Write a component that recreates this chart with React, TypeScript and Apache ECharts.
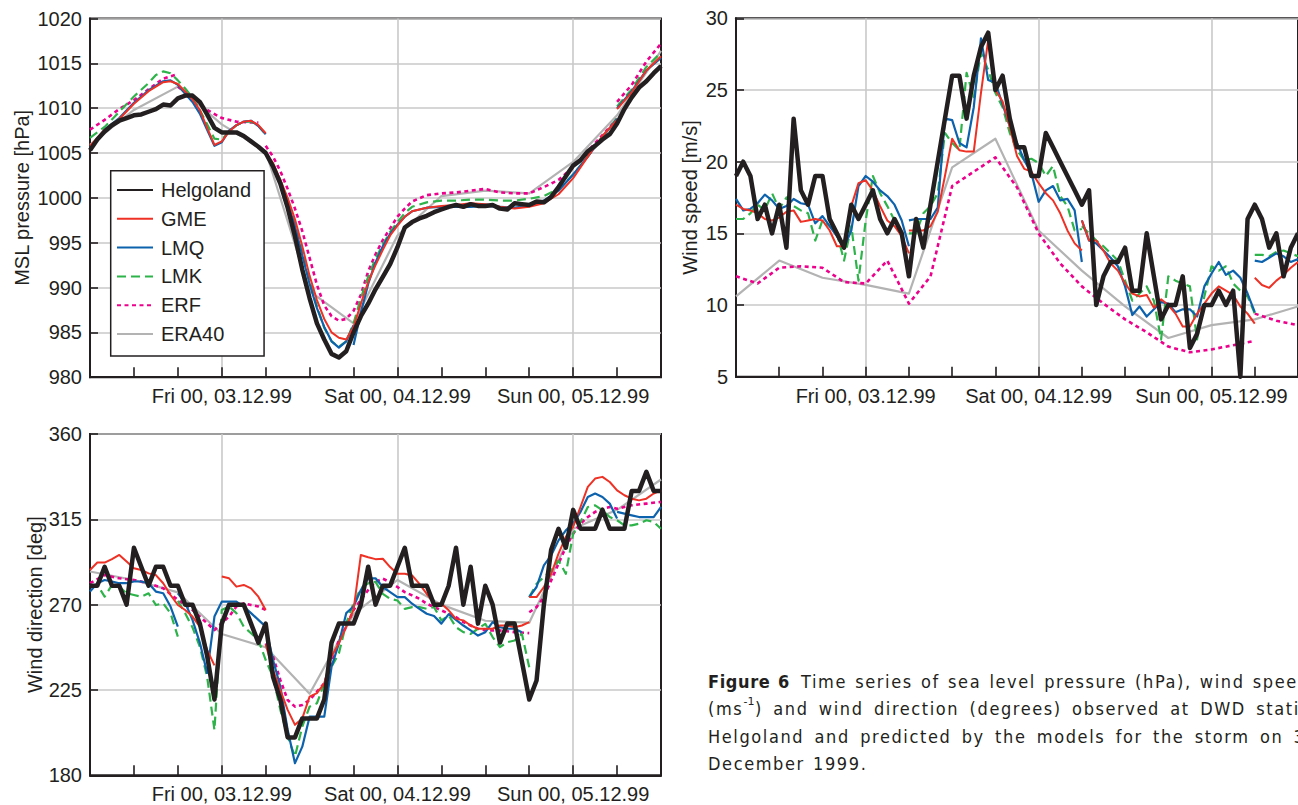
import { useEffect, useRef } from "react";
import * as echarts from "echarts";

// Hour offsets from Thu 02.12.99 06 UTC; each run is a list of [hour, value] points.
type Pt = [number, number | null];

const SPAN_HOURS = 78;
const TICK_STEP_HOURS = 6;
const DAY_HOURS = [18, 42, 66];
const DAY_LABELS = ["Fri 00, 03.12.99", "Sat 00, 04.12.99", "Sun 00, 05.12.99"];

const NAMES = ["Helgoland", "GME", "LMQ", "LMK", "ERF", "ERA40"];

// ---------------- MSL pressure [hPa] ----------------
const HELGOLAND_PRESSURE = [
  1005.3, 1006.5, 1007.4, 1008.1, 1008.6, 1008.9, 1009.2, 1009.3, 1009.6, 1009.9,
  1010.4, 1010.3, 1011.1, 1011.4, 1011.4, 1010.7, 1009.3, 1007.8, 1007.3, 1007.3,
  1007.3, 1006.9, 1006.3, 1005.7, 1005.0, 1003.5, 1001.6, 998.9, 995.7, 992.0,
  988.8, 986.0, 984.2, 982.6, 982.2, 982.9, 985.0, 986.8, 988.2, 989.8,
  991.2, 992.6, 994.5, 996.7, 997.3, 997.7, 998.0, 998.4, 998.7, 999.0,
  999.2, 999.0, 999.3, 999.1, 999.1, 999.2, 998.8, 998.7, 999.4, 999.3,
  999.2, 999.6, 999.5, 1000.1, 1001.2, 1002.4, 1003.6, 1004.2, 1005.2, 1005.8,
  1006.5, 1007.1, 1008.3, 1009.9, 1011.2, 1012.3, 1013.0, 1013.9, 1014.7,
];

const GME_PRESSURE: Pt[][] = [
  [[0, 1005.8], [2, 1007.6], [4, 1008.8], [6, 1010.5], [8, 1011.9], [10, 1012.9], [11, 1013.0], [12, 1012.7],
   [14, 1011.0], [15, 1009.8], [16, 1007.8], [17, 1005.9], [18, 1006.3], [19, 1007.4], [20, 1008.1], [21, 1008.5],
   [22, 1008.6], [23, 1008.1], [24, 1007.2]],
  [[24, 1005.0], [25, 1003.9], [26, 1002.0], [27, 1000.0], [28, 997.6], [29, 994.6], [30, 991.3], [31, 988.6],
   [32, 986.5], [33, 985.0], [34, 984.4], [35, 984.2], [36, 985.6], [37, 988.2], [38, 990.6], [39, 992.5],
   [40, 994.2], [41, 995.8], [42, 996.9], [43, 997.9], [44, 998.5], [46, 998.9], [48, 999.1], [50, 999.2],
   [52, 999.4], [54, 999.3], [56, 999.0], [58, 998.8], [60, 999.0], [62, 999.4], [64, 1000.4], [66, 1002.2],
   [68, 1004.6], [70, 1006.9], [72, 1008.7]],
  [[72, 1009.9], [74, 1011.8], [76, 1014.2], [78, 1015.8]],
];

const LMQ_PRESSURE: Pt[][] = [
  [[0, 1005.6], [2, 1007.6], [4, 1008.9], [6, 1010.6], [8, 1012.0], [10, 1013.0], [11, 1013.1], [12, 1012.6],
   [13, 1011.6], [14, 1010.7], [15, 1009.4], [16, 1007.6], [17, 1005.8], [18, 1006.2], [19, 1007.5], [20, 1008.1],
   [21, 1008.5], [22, 1008.6], [23, 1008.0], [24, 1007.1]],
  [[24, 1005.0], [25, 1003.7], [26, 1001.8], [27, 999.5], [28, 996.8], [29, 993.6], [30, 990.4], [31, 987.7],
   [32, 985.6], [33, 984.0], [34, 983.3], [35, 984.0], [36, 985.8]],
  [[36, 983.6], [37, 987.2], [38, 990.4], [39, 992.8], [40, 994.6], [41, 996.0], [42, 997.0], [43, 997.9],
   [44, 998.5], [46, 998.9], [48, 999.0], [50, 999.0], [52, 999.0], [54, 999.1], [56, 999.0], [58, 998.9],
   [60, 999.1], [62, 999.7], [64, 1000.8], [66, 1002.6], [68, 1004.6], [70, 1006.8], [72, 1008.8]],
  [[72, 1010.0], [74, 1011.9], [76, 1014.2], [78, 1015.6]],
];

const LMK_PRESSURE: Pt[][] = [
  [[0, 1006.7], [2, 1007.9], [4, 1009.6], [6, 1011.3], [8, 1012.8], [9, 1013.7], [10, 1014.1], [11, 1013.9],
   [12, 1013.1], [13, 1012.2], [14, 1011.2], [15, 1009.8], [16, 1008.2], [17, 1006.6], [18, 1006.5], [19, 1007.4],
   [20, 1008.1], [21, 1008.5], [22, 1008.5], [23, 1008.0], [24, 1007.1]],
  [[24, 1005.0], [26, 1002.0], [28, 997.2], [29, 994.0], [30, 990.8], [31, 987.9], [32, 985.5], [33, 984.0],
   [34, 983.4], [35, 984.0], [36, 986.0], [37, 988.8], [38, 991.2], [39, 993.2], [40, 994.8], [41, 996.2],
   [42, 997.3], [43, 998.3], [44, 999.0], [46, 999.5], [48, 999.7], [50, 999.7], [52, 999.8], [54, 999.8],
   [56, 999.7], [58, 999.7], [60, 999.9], [62, 1000.2], [64, 1001.0], [66, 1002.6], [68, 1004.6], [70, 1006.8],
   [72, 1008.9]],
  [[72, 1010.2], [74, 1012.1], [76, 1014.6], [78, 1016.2]],
];

const ERF_PRESSURE: Pt[][] = [
  [[0, 1007.6], [2, 1008.7], [4, 1009.9], [6, 1010.9], [8, 1012.1], [10, 1013.3], [12, 1013.8]],
  [[12, 1012.4], [14, 1011.2], [16, 1009.8], [18, 1008.9], [20, 1008.5], [22, 1008.4], [23, 1008.4]],
  [[24, 1005.8], [25, 1004.6], [26, 1003.0], [27, 1001.0], [28, 998.8], [29, 996.3], [30, 993.3], [31, 990.3],
   [32, 988.0], [33, 986.8], [34, 986.3], [35, 986.5], [36, 987.4], [37, 989.2], [38, 991.8], [39, 993.7],
   [40, 995.3], [41, 996.6], [42, 997.9], [43, 998.8], [44, 999.6], [46, 1000.3], [48, 1000.5], [50, 1000.6],
   [52, 1000.8], [54, 1001.0], [56, 1000.6], [58, 1000.5], [60, 1000.5], [62, 1001.2], [64, 1002.0], [66, 1003.4],
   [68, 1005.2], [70, 1007.0], [72, 1008.8]],
  [[72, 1010.7], [74, 1012.6], [76, 1015.2], [78, 1017.2]],
];

const ERA40_PRESSURE: Pt[][] = [
  [[0, 1005.9], [6, 1009.8], [12, 1012.4], [18, 1008.2], [24, 1005.2], [30, 989.6], [36, 986.0], [42, 995.8],
   [48, 1000.2], [54, 1000.8], [60, 1000.5], [66, 1004.0], [72, 1009.2], [78, 1016.4]],
];

// ---------------- Wind speed [m/s] ----------------
const HELGOLAND_SPEED = [
  19, 20, 19, 16, 17, 15, 17, 14, 23, 18,
  17, 19, 19, 16, 15, 14, 17, 16, 17, 18,
  16, 15, 16, 15, 12, 16, 14, 17, 20, 23,
  26, 26, 23, 26, 28, 29, 25, 26, 23, 21,
  21, 19, 19, 22, 21, 20, 19, 18, 17, 18,
  10, 12, 13, 13, 14, 11, 11, 15, 12, 9,
  10, 10, 12, 7, 8, 10, 10, 11, 10, 11,
  5, 16, 17, 16, 14, 15, 12, 14, 15,
];

const GME_SPEED: Pt[][] = [
  [[0, 17.0], [1, 16.7], [2, 16.6], [3, 16.4], [4, 16.0], [5, 15.9], [6, 16.1], [7, 16.5], [8, 16.6], [9, 15.8],
   [10, 15.9], [11, 16.0], [12, 15.9], [13, 15.2], [14, 14.1], [15, 14.1], [16, 16.9], [17, 18.5], [18, 18.7],
   [19, 18.0], [20, 16.9], [21, 15.9], [22, 15.5], [23, 14.8], [24, 13.6]],
  [[24, 15.2], [25, 15.2], [26, 15.2], [27, 15.5], [28, 16.5], [29, 19.0], [30, 21.6], [31, 20.8], [32, 20.7],
   [33, 20.7], [34, 24.8], [35, 28.5], [36, 25.0], [37, 24.2], [38, 22.4], [39, 20.4], [40, 19.5], [41, 19.3],
   [42, 18.5], [43, 17.8], [44, 17.3], [45, 16.4], [46, 15.2], [47, 14.3], [48, 13.8]],
  [[48, 15.9], [49, 14.5], [50, 14.5], [51, 13.8], [52, 12.9], [53, 12.4], [54, 11.5], [55, 10.8], [56, 10.6],
   [57, 10.7], [58, 9.8], [59, 10.4], [60, 10.0], [61, 9.4], [62, 8.5], [63, 8.5], [64, 9.4], [65, 10.1],
   [66, 10.8], [67, 11.3], [68, 11.0], [69, 10.7], [70, 9.9], [71, 9.4], [72, 8.7]],
  [[72, 11.9], [73, 11.4], [74, 11.2], [75, 11.7], [76, 12.1], [77, 12.6], [78, 13.0]],
];

const LMQ_SPEED: Pt[][] = [
  [[0, 17.4], [1, 16.6], [2, 16.7], [3, 17.1], [4, 17.7], [5, 17.3], [6, 16.7], [7, 16.9], [8, 17.4], [9, 17.1],
   [10, 17.0], [11, 15.7], [12, 16.2], [13, 15.5], [14, 14.8], [15, 14.0], [16, 15.2], [17, 18.3], [18, 19.0],
   [19, 18.6], [20, 18.0], [21, 17.6], [22, 17.0], [23, 15.9], [24, 14.1]],
  [[24, 15.9], [25, 16.0], [26, 16.0], [27, 16.0], [28, 16.8], [29, 23.0], [30, 22.9], [31, 21.3], [32, 21.0],
   [33, 23.8], [34, 28.6], [35, 25.7], [36, 25.5], [37, 24.0], [38, 22.5], [39, 21.3], [40, 20.1], [41, 19.2],
   [42, 17.2], [43, 18.0], [44, 18.3], [45, 17.3], [46, 17.4], [47, 16.6], [48, 13.0]],
  [[48, 15.9], [49, 14.5], [50, 14.3], [51, 13.8], [52, 13.3], [53, 12.7], [54, 11.3], [55, 9.3], [56, 9.9],
   [57, 9.2], [58, 9.7], [59, 10.2], [60, 10.1], [61, 9.5], [62, 9.7], [63, 9.7], [64, 9.2], [65, 11.3],
   [66, 12.2], [67, 13.0], [68, 12.1], [69, 12.4], [70, 11.9], [71, 10.8], [72, 9.5]],
  [[72, 13.1], [73, 13.0], [74, 13.3], [75, 13.6], [76, 13.4], [77, 13.0], [78, 13.2]],
];

const LMK_SPEED: Pt[][] = [
  [[0, 16.0], [1, 16.0], [2, 16.4], [3, 17.0], [4, 16.6], [5, 17.8], [6, 16.7], [7, 17.5], [8, 16.9], [9, 16.6],
   [10, 16.4], [11, 14.5], [12, 15.9], [13, 15.5], [14, 15.0], [15, 13.1], [16, 15.5], [17, 11.7], [18, 15.9],
   [19, 19.0], [20, 17.8], [21, 16.9], [22, 15.9], [23, 15.0], [24, 12.2]],
  [[24, 15.0], [25, 15.0], [26, 16.4], [27, 16.9], [28, 17.8], [29, 22.0], [30, 21.3], [31, 20.8], [32, 26.2],
   [33, 24.5], [34, 27.6], [35, 26.4], [36, 24.8], [37, 23.8], [38, 22.0], [39, 20.8], [40, 20.1], [41, 20.2],
   [42, 19.9], [43, 19.0], [44, 19.7], [45, 17.6], [46, 16.9], [47, 15.2], [48, 15.3]],
  [[48, 15.5], [49, 15.0], [50, 14.5], [51, 14.1], [52, 13.6], [53, 13.1], [54, 11.7], [55, 10.3], [56, 10.8],
   [57, 11.3], [58, 10.3], [59, 7.6], [60, 12.0], [61, 11.7], [62, 11.5], [63, 11.3], [64, 7.6], [65, 10.6],
   [66, 12.7], [67, 12.4], [68, 12.7], [69, 11.5], [70, 11.0], [71, 10.6], [72, 9.4]],
  [[72, 13.5], [73, 13.5], [74, 13.4], [75, 13.7], [76, 13.8], [77, 13.6], [78, 13.4]],
];

const ERF_SPEED: Pt[][] = [
  [[0, 12.0], [3, 11.5], [6, 12.6], [9, 12.7], [12, 12.6], [15, 11.6], [18, 11.5], [21, 13.1], [24, 10.1],
   [27, 12.0], [30, 18.3], [33, 19.3], [36, 20.3], [39, 18.2], [42, 15.0], [45, 12.9], [48, 11.3], [51, 10.1],
   [54, 9.0], [57, 8.1], [60, 7.1], [63, 6.7], [66, 6.9], [69, 7.2], [72, 7.5]],
  [[72, 9.4], [75, 8.9], [78, 8.6]],
];

const ERA40_SPEED: Pt[][] = [
  [[0, 10.6], [6, 13.1], [12, 11.9], [18, 11.4], [24, 10.8], [30, 19.6], [36, 21.6], [42, 15.2], [48, 12.4],
   [54, 9.9], [60, 7.7], [66, 8.6], [72, 9.0], [78, 9.9]],
];

// ---------------- Wind direction [deg] ----------------
const HELGOLAND_DIRECTION = [
  280, 280, 290, 280, 280, 270, 300, 290, 280, 290,
  290, 280, 280, 270, 270, 260, 243, 220, 260, 270,
  270, 270, 260, 250, 260, 232, 220, 200, 200, 210,
  210, 210, 220, 250, 260, 260, 260, 270, 290, 270,
  280, 280, 290, 300, 280, 280, 280, 270, 270, 280,
  300, 270, 290, 260, 280, 270, 250, 260, 260, 240,
  220, 230, 270, 299, 310, 300, 320, 310, 310, 310,
  320, 310, 310, 310, 330, 330, 340, 330, 330,
];

const GME_DIRECTION: Pt[][] = [
  [[0, 288.3], [1, 292.2], [2, 292.2], [3, 294.0], [4, 296.2], [5, 292.7], [6, 289.2], [7, 288.3], [8, 286.5],
   [9, 285.6], [10, 281.3], [11, 275.1], [12, 269.8], [13, 267.2], [14, 263.7], [15, 258.4], [16, 246.1], [17, 238.0]],
  [[18, 284.8], [19, 283.9], [20, 279.5], [21, 280.4], [22, 278.6], [23, 274.2], [24, 267.2]],
  [[24, 249.0], [25, 235.6], [26, 225.0], [27, 214.5], [28, 206.6], [29, 210.0], [30, 221.5], [31, 223.3],
   [32, 228.5], [33, 242.6], [34, 249.6], [35, 258.4], [36, 267.2], [37, 296.2], [38, 295.0], [39, 294.0],
   [40, 294.2], [41, 289.8], [42, 286.3], [43, 286.3], [44, 285.4], [45, 281.0], [46, 275.7], [47, 270.5],
   [48, 270.5], [49, 267.0], [50, 262.5], [51, 261.7], [52, 259.0], [53, 257.3], [54, 257.3], [55, 257.3],
   [56, 259.0], [57, 259.0], [58, 258.1], [59, 259.0], [60, 260.8]],
  [[60, 274.0], [61, 274.0], [62, 279.3], [63, 286.3], [64, 296.9], [65, 305.7], [66, 311.0], [67, 321.5],
   [68, 332.1], [69, 336.5], [70, 337.4], [71, 334.7], [72, 330.3], [73, 327.7], [74, 325.9], [75, 325.0],
   [76, 325.9], [77, 328.6], [78, 330.3]],
];

const LMQ_DIRECTION: Pt[][] = [
  [[0, 276.9], [1, 281.3], [2, 283.0], [3, 282.2], [4, 281.3], [5, 281.3], [6, 282.2], [7, 282.2], [8, 281.3],
   [9, 276.9], [10, 276.0], [11, 269.0], [12, 258.4]],
  [[12, 276.0], [13, 271.0], [14, 262.0], [15, 250.0], [16, 234.0], [17, 263.7], [18, 271.6], [19, 271.6],
   [20, 271.6], [21, 269.0], [22, 265.5], [23, 262.0], [24, 258.4], [25, 240.8], [26, 226.8], [27, 204.0],
   [28, 186.4], [29, 195.1], [30, 210.9], [31, 210.9], [32, 210.9], [33, 237.3], [34, 249.6], [35, 265.5],
   [36, 269.0], [37, 277.7], [38, 283.9], [39, 283.9], [40, 279.3], [41, 276.6], [42, 274.0], [43, 274.0],
   [44, 270.5], [45, 267.8], [46, 265.2], [47, 264.0], [48, 260.0], [49, 265.0], [50, 262.0], [51, 259.0],
   [52, 256.4], [53, 253.7], [54, 255.5], [55, 260.8], [56, 258.1], [57, 257.3], [58, 257.3], [59, 255.5]],
  [[60, 274.0], [61, 279.3], [62, 290.7], [63, 296.0], [64, 303.9], [65, 309.2], [66, 312.7], [67, 318.9],
   [68, 326.8], [69, 328.6], [70, 326.8], [71, 323.3], [72, 315.4]],
  [[72, 318.9], [73, 318.0], [74, 317.1], [75, 316.2], [76, 316.2], [77, 316.2], [78, 321.5]],
];

const LMK_DIRECTION: Pt[][] = [
  [[0, 279.5], [1, 280.4], [2, 274.2], [3, 280.4], [4, 279.5], [5, 276.0], [6, 275.1], [7, 274.2], [8, 276.0],
   [9, 269.8], [10, 270.7], [11, 265.5], [12, 253.1]],
  [[12, 272.0], [13, 265.5], [14, 258.0], [15, 247.9], [16, 232.0], [17, 203.9], [18, 267.2], [19, 269.0],
   [20, 265.5], [21, 258.4], [22, 254.9], [23, 251.4], [24, 240.8], [25, 232.0], [26, 214.5], [27, 200.4],
   [28, 189.9], [29, 205.7], [30, 216.2], [31, 218.0], [32, 228.5], [33, 237.3], [34, 244.3], [35, 260.2],
   [36, 270.7], [37, 278.6], [38, 281.3], [39, 282.0], [40, 275.7], [41, 273.1], [42, 272.2], [43, 267.8],
   [44, 268.7], [45, 268.7], [46, 267.8], [47, 268.7], [48, 261.7], [49, 264.3], [50, 258.1], [51, 255.5],
   [52, 254.6], [53, 257.3], [54, 259.9], [55, 252.9], [56, 247.6], [57, 250.2], [58, 251.1], [59, 254.6],
   [60, 237.0]],
  [[60, 274.0], [61, 281.0], [62, 284.5], [63, 288.1], [64, 293.3], [65, 286.3], [66, 307.4], [67, 313.6],
   [68, 321.5], [69, 322.4], [70, 319.8], [71, 316.2], [72, 314.5], [73, 311.8], [74, 311.8], [75, 312.7],
   [76, 314.5], [77, 313.6], [78, 310.0]],
];

const ERF_DIRECTION: Pt[][] = [
  [[0, 281.3], [2, 285.6], [4, 283.9], [6, 283.0], [8, 281.3], [10, 278.6], [12, 272.5], [14, 267.2], [16, 260.2],
   [17, 256.6], [18, 260.2], [19, 263.7], [20, 269.0], [21, 270.7], [22, 269.8], [23, 269.0], [24, 267.2]],
  [[24, 249.6], [25, 242.6], [26, 230.3], [27, 219.7], [28, 216.2], [29, 217.1], [30, 219.7], [31, 224.1],
   [32, 228.5], [33, 239.0], [34, 251.4], [35, 258.4], [36, 267.2], [37, 272.5], [38, 277.7], [39, 282.0],
   [40, 283.7], [41, 281.9], [42, 279.3], [43, 276.6], [44, 274.9], [45, 273.1], [46, 270.5], [47, 268.7],
   [48, 267.0], [49, 265.2], [50, 263.4], [51, 260.8], [52, 259.0], [53, 257.3], [54, 256.4], [56, 256.4],
   [58, 255.5], [60, 255.0]],
  [[60, 266.0], [61, 268.7], [62, 274.0], [63, 282.8], [64, 291.6], [65, 300.4], [66, 307.4], [67, 312.7],
   [68, 316.2], [69, 318.9], [70, 320.6], [71, 321.5], [72, 320.6], [74, 322.4], [76, 323.3], [78, 324.2]],
];

const ERA40_DIRECTION: Pt[][] = [
  [[0, 287.5], [6, 283.0], [12, 276.5], [18, 254.5], [24, 247.5], [30, 223.0], [36, 265.0], [42, 283.0],
   [48, 270.0], [54, 261.5], [60, 260.5], [66, 310.0], [72, 320.0], [78, 336.0]],
];

// ---------------- Styling ----------------
const INK = "#231f20";
const GRID_GREY = "#c9c9c9";
const FONT = "'Liberation Sans', Arial, Helvetica, sans-serif";
// caption face; the justified lines carry an extra fallback name so CSS can widen their word gaps
const CAPTION_FONT = "'DejaVu Sans Condensed', sans-serif";
const CAPTION_FONT_JUSTIFIED = "'DejaVu Sans Condensed', 'Liberation Sans Narrow', sans-serif";
const SUP_FONT = "'DejaVu Sans', sans-serif";

// the caption is set with open tracking; its SVG text is matched through the font name in the style attribute
const CAPTION_CSS = [
  "text[style*='Condensed'] { letter-spacing: 1.6px; word-spacing: 1.5px; }",
  "text[style*='Condensed'][style*='Narrow'] { word-spacing: 3.6px; }",
  "text[style*='Condensed'][style*='bold'] { letter-spacing: 0.6px; }",
].join("\n");

const LINE_STYLES: Record<string, { color: string; width: number; type: any }> = {
  Helgoland: { color: INK, width: 4.5, type: "solid" },
  GME: { color: "#ee3124", width: 2, type: "solid" },
  LMQ: { color: "#0d62ad", width: 2.2, type: "solid" },
  LMK: { color: "#2db34a", width: 2.2, type: [9, 5] },
  ERF: { color: "#ec008c", width: 2.6, type: [4, 3.5] },
  ERA40: { color: "#b3b3b3", width: 2.2, type: "solid" },
};

// draw order: reanalysis at the back, the station record on top
const DRAW_ORDER = ["ERA40", "ERF", "LMK", "LMQ", "GME", "Helgoland"];

const HOURS = Array.from({ length: SPAN_HOURS + 1 }, (_, i) => String(i));

function hourly(values: number[]): Pt[] {
  return values.map((v, i) => [i, v] as Pt);
}

// forecast runs are joined with a gap so that each run is drawn as its own line
function joinRuns(runs: Pt[][]): Pt[] {
  const out: Pt[] = [];
  runs.forEach((run, k) => {
    if (k > 0) out.push([run[0][0], null]);
    out.push(...run);
  });
  return out;
}

function xAxisFor(gridIndex: number) {
  return {
    type: "category",
    gridIndex,
    data: HOURS,
    boundaryGap: false,
    axisLine: { show: true, lineStyle: { color: INK, width: 2 } },
    axisTick: {
      show: true,
      inside: true,
      length: 10,
      interval: (i: number) => i % TICK_STEP_HOURS === 0,
      lineStyle: { color: INK, width: 1.6 },
    },
    axisLabel: {
      interval: (i: number) => DAY_HOURS.includes(i),
      formatter: (v: string) => {
        const k = DAY_HOURS.indexOf(Number(v));
        return k >= 0 ? DAY_LABELS[k] : "";
      },
      margin: 9,
      fontSize: 20,
      fontFamily: FONT,
      color: INK,
    },
    splitLine: {
      show: true,
      interval: (i: number) => DAY_HOURS.includes(i),
      lineStyle: { color: GRID_GREY, width: 1.6 },
    },
  };
}

function yAxisFor(gridIndex: number, min: number, max: number, interval: number, name: string, nameGap: number) {
  return {
    type: "value",
    gridIndex,
    min,
    max,
    interval,
    name,
    nameLocation: "middle",
    nameGap,
    nameTextStyle: { fontSize: 20, fontFamily: FONT, color: INK },
    axisLine: { show: true, lineStyle: { color: INK, width: 2 } },
    axisTick: { show: true, inside: true, length: 8, lineStyle: { color: INK, width: 1.6 } },
    axisLabel: { fontSize: 20, fontFamily: FONT, color: INK, margin: 8, formatter: (v: number) => String(v) },
    splitLine: { show: true, lineStyle: { color: GRID_GREY, width: 1.6 } },
  };
}

function panelSeries(index: number, data: Record<string, Pt[]>) {
  return DRAW_ORDER.map((name) => {
    const st = LINE_STYLES[name];
    return {
      type: "line",
      name,
      xAxisIndex: index,
      yAxisIndex: index,
      data: data[name],
      symbol: "none",
      showSymbol: false,
      connectNulls: false,
      clip: true,
      silent: true,
      color: st.color,
      itemStyle: { color: st.color },
      lineStyle: { color: st.color, width: st.width, type: st.type, cap: "butt", join: "round" },
      z: 2,
    };
  });
}

function captionText(x: number, y: number, text: string, extra: Record<string, any> = {}) {
  return {
    type: "text",
    x,
    y,
    silent: true,
    style: {
      text,
      fontSize: 18,
      fontFamily: CAPTION_FONT,
      fill: INK,
      verticalAlign: "middle",
      align: "left",
      ...extra,
    },
  };
}

function buildOption() {
  const pressure = {
    Helgoland: hourly(HELGOLAND_PRESSURE),
    GME: joinRuns(GME_PRESSURE),
    LMQ: joinRuns(LMQ_PRESSURE),
    LMK: joinRuns(LMK_PRESSURE),
    ERF: joinRuns(ERF_PRESSURE),
    ERA40: joinRuns(ERA40_PRESSURE),
  };
  const speed = {
    Helgoland: hourly(HELGOLAND_SPEED),
    GME: joinRuns(GME_SPEED),
    LMQ: joinRuns(LMQ_SPEED),
    LMK: joinRuns(LMK_SPEED),
    ERF: joinRuns(ERF_SPEED),
    ERA40: joinRuns(ERA40_SPEED),
  };
  const direction = {
    Helgoland: hourly(HELGOLAND_DIRECTION),
    GME: joinRuns(GME_DIRECTION),
    LMQ: joinRuns(LMQ_DIRECTION),
    LMK: joinRuns(LMK_DIRECTION),
    ERF: joinRuns(ERF_DIRECTION),
    ERA40: joinRuns(ERA40_DIRECTION),
  };

  const gridBase = { show: true, borderColor: INK, borderWidth: 2, backgroundColor: "transparent", containLabel: false };

  return {
    animation: false,
    backgroundColor: "#ffffff",
    grid: [
      { ...gridBase, left: 90, top: 18.5, width: 571, height: 358.7 },
      { ...gridBase, left: 736, top: 18.3, width: 571, height: 358.4 },
      { ...gridBase, left: 90, top: 434, width: 571, height: 341.3 },
    ],
    xAxis: [xAxisFor(0), xAxisFor(1), xAxisFor(2)],
    yAxis: [
      yAxisFor(0, 980, 1020, 5, "MSL pressure [hPa]", 58),
      yAxisFor(1, 5, 30, 5, "Wind speed [m/s]", 36),
      yAxisFor(2, 180, 360, 45, "Wind direction [deg]", 45),
    ],
    legend: {
      show: true,
      orient: "vertical",
      left: 110.7,
      top: 170.7,
      data: NAMES,
      itemWidth: 36,
      itemHeight: 14,
      itemGap: 8.8,
      padding: [9.3, 13, 12, 5.3],
      borderColor: INK,
      borderWidth: 1.5,
      borderRadius: 0,
      backgroundColor: "#ffffff",
      selectedMode: false,
      itemStyle: { opacity: 0 },
      textStyle: { fontSize: 20, fontFamily: FONT, color: INK, padding: [0, 0, 0, 3] },
    },
    graphic: [
      captionText(708, 681, "Figure 6", { fontWeight: "bold" }),
      captionText(801, 681, "Time series of sea level pressure (hPa), wind speed"),
      captionText(708, 708.5, "(ms", { fontFamily: CAPTION_FONT_JUSTIFIED }),
      captionText(743.5, 701.5, "-1", { fontSize: 11, fontFamily: SUP_FONT }),
      captionText(755, 708.5, ") and wind direction (degrees) observed at DWD station", {
        fontFamily: CAPTION_FONT_JUSTIFIED,
      }),
      captionText(708, 736, "Helgoland and predicted by the models for the storm on 3", {
        fontFamily: CAPTION_FONT_JUSTIFIED,
      }),
      captionText(708, 763.5, "December 1999."),
    ],
    series: [...panelSeries(0, pressure), ...panelSeries(1, speed), ...panelSeries(2, direction)],
  };
}

export default function App() {
  const ref = useRef<HTMLDivElement | null>(null);

  useEffect(() => {
    if (!ref.current) return;
    const chart = echarts.init(ref.current, undefined, { renderer: "svg" });
    chart.setOption(buildOption() as any);
    return () => chart.dispose();
  }, []);

  return (
    <>
      <style>{CAPTION_CSS}</style>
      <div
        ref={ref}
        style={{ position: "fixed", left: 0, top: 0, width: 1298, height: 805, background: "#ffffff", overflow: "hidden" }}
      />
    </>
  );
}
